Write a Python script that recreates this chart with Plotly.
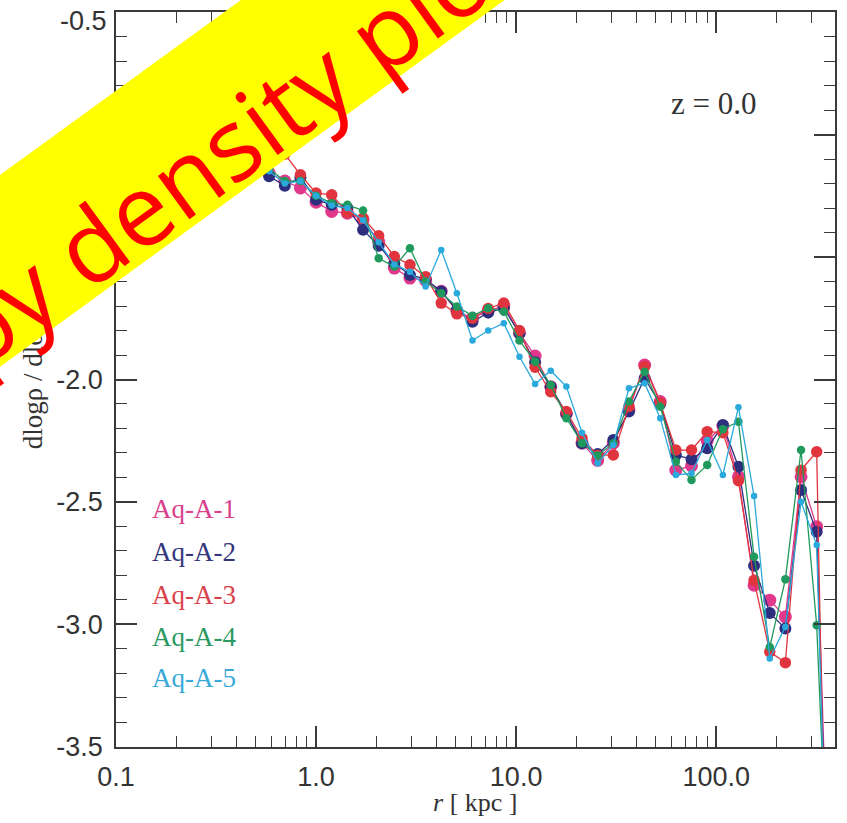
import plotly.graph_objects as go

# radius bins [kpc]
r_kpc = [0.198, 0.237, 0.2836, 0.3395, 0.4064, 0.4866, 0.5825, 0.6975, 0.835,
         1.0, 1.197, 1.434, 1.717, 2.055, 2.460, 2.946, 3.527, 4.222, 5.056,
         6.053, 7.247, 8.677, 10.39, 12.44, 14.89, 17.83, 21.35, 25.56, 30.60,
         36.64, 43.87, 52.52, 62.88, 75.29, 90.16, 108.0, 129.2, 154.7, 185.3,
         221.8, 265.6, 318.0, 380.8]

aq_a_1 = [-0.88, -0.92, -0.97, -1.02, -1.07, -1.11, -1.157, -1.19, -1.218,
          -1.276, -1.314, -1.321, -1.348, -1.437, -1.545, -1.586, -1.595, -1.64, -1.72,
          -1.75, -1.72, -1.70, -1.81, -1.904, -2.03, -2.14, -2.26, -2.33, -2.26,
          -2.124, -1.941, -2.09, -2.37, -2.353, -2.25, -2.19, -2.397, -2.84, -2.901,
          -2.969, -2.397, -2.601, -4.6]
aq_a_2 = [-0.89, -0.93, -0.98, -1.03, -1.08, -1.13, -1.17, -1.209, -1.175,
          -1.266, -1.287, -1.30, -1.389, -1.454, -1.525, -1.573, -1.59, -1.641, -1.716,
          -1.764, -1.727, -1.709, -1.811, -1.93, -2.03, -2.14, -2.26, -2.304, -2.247,
          -2.131, -1.995, -2.10, -2.308, -2.326, -2.281, -2.186, -2.356, -2.76, -2.953,
          -3.017, -2.451, -2.622, -4.8]
aq_a_3 = [-0.86, -0.90, -0.94, -0.98, -1.02, -1.05, -1.07, -1.08, -1.164,
          -1.239, -1.246, -1.318, -1.341, -1.413, -1.498, -1.532, -1.58, -1.688, -1.732,
          -1.75, -1.71, -1.688, -1.80, -1.95, -2.05, -2.131, -2.24, -2.31, -2.308,
          -2.11, -1.947, -2.096, -2.288, -2.288, -2.213, -2.217, -2.413, -2.82, -3.112,
          -3.156, -2.37, -2.295, -5.5]
aq_a_4 = [-0.88, -0.92, -0.97, -1.02, -1.06, -1.10, -1.14, -1.19, -1.19,
          -1.25, -1.28, -1.287, -1.31, -1.505, -1.539, -1.464, -1.60, -1.648, -1.702,
          -1.740, -1.709, -1.723, -1.841, -1.927, -2.022, -2.158, -2.26, -2.31, -2.26,
          -2.09, -1.968, -2.111, -2.336, -2.41, -2.349, -2.203, -2.172, -2.724, -3.092,
          -2.816, -2.288, -3.003, -4.5]
aq_a_5 = [-0.88, -0.92, -0.97, -1.02, -1.07, -1.11, -1.15, -1.20, -1.19,
          -1.25, -1.29, -1.30, -1.35, -1.44, -1.53, -1.56, -1.62, -1.471, -1.648,
          -1.841, -1.80, -1.77, -1.907, -2.018, -1.964, -2.029, -2.217, -2.342, -2.267,
          -2.036, -2.015, -2.158, -2.39, -2.383, -2.247, -2.39, -2.113, -2.476, -3.139,
          -3.01, -2.499, -2.676, -4.9]

names = ["Aq-A-1", "Aq-A-2", "Aq-A-3", "Aq-A-4", "Aq-A-5"]
series = [aq_a_1, aq_a_2, aq_a_3, aq_a_4, aq_a_5]
colors = ["#e0398c", "#2d2f7e", "#e0353f", "#1f9a5c", "#2aa9dc"]
text_colors = ["#d9418d", "#35377c", "#d9434c", "#2b9a60", "#3aaad8"]
marker_sizes = [13, 12, 11.5, 8.5, 6.5]

x_tickvals = [0.1, 1, 10, 100]
x_ticktext = ["0.1", "1.0", "10.0", "100.0"]
x_minor = [0.2, 0.3, 0.4, 0.5, 0.6, 0.7, 0.8, 0.9, 2, 3, 4, 5, 6, 7, 8, 9,
           20, 30, 40, 50, 60, 70, 80, 90, 200, 300]
y_tickvals = [-0.5, -1.0, -1.5, -2.0, -2.5, -3.0, -3.5]
y_ticktext = ["", "-1.0", "-1.5", "-2.0", "-2.5", "-3.0", "-3.5"]
y_top_label = "-0.5"

fig = go.Figure()
for name, ys, c, ms in zip(names, series, colors, marker_sizes):
    fig.add_trace(go.Scatter(x=r_kpc, y=ys, mode="lines+markers", name=name,
                             line=dict(color=c, width=1.3),
                             marker=dict(color=c, size=ms)))

W, H = 847, 823
L, R, T, B = 116, 10, 12, 76
pw, ph = W - L - R, H - T - B

def px(xp):
    return (xp - L) / pw

def py(yp):
    return (H - B - yp) / ph

axis_col = "#3a3a3a"
tick_font = dict(family="Liberation Sans, Arial, sans-serif", size=27, color="#333333")
serif = "Liberation Serif, Times New Roman, serif"

fig.update_xaxes(type="log", range=[-1.0003, 2.594], tickmode="array",
                 tickvals=x_tickvals, ticktext=x_ticktext,
                 ticks="inside", ticklen=21, tickwidth=1.5, tickcolor=axis_col,
                 minor=dict(tickmode="array", tickvals=x_minor, ticks="inside",
                            ticklen=11, tickwidth=1.3, tickcolor=axis_col),
                 showline=True, linecolor=axis_col, linewidth=1.5, mirror="allticks",
                 showgrid=False, zeroline=False, tickfont=tick_font,
                 ticklabelstandoff=5)
fig.update_yaxes(range=[-3.5004, -0.4996], tickmode="array",
                 tickvals=y_tickvals, ticktext=y_ticktext,
                 ticks="inside", ticklen=21, tickwidth=1.5, tickcolor=axis_col,
                 minor=dict(dtick=0.1, tick0=-0.5, ticks="inside",
                            ticklen=11, tickwidth=1.3, tickcolor=axis_col),
                 showline=True, linecolor=axis_col, linewidth=1.5, mirror="allticks",
                 showgrid=False, zeroline=False, tickfont=tick_font,
                 ticklabelstandoff=6)

annotations = []
annotations.append(dict(text=y_top_label, x=px(109), y=py(21), xref="paper", yref="paper",
                        showarrow=False, xanchor="right", yanchor="middle",
                        font=tick_font))
# axis titles
annotations.append(dict(text="dlogρ / dlogr", x=px(33), y=py(380), xref="paper", yref="paper",
                        textangle=-90, showarrow=False, xanchor="center", yanchor="middle",
                        font=dict(family=serif, size=27, color="#333333")))
annotations.append(dict(text="<i>r</i> [ kpc ]", x=px(476), y=py(802), xref="paper", yref="paper",
                        showarrow=False, xanchor="center", yanchor="middle",
                        font=dict(family=serif, size=26, color="#333333")))
annotations.append(dict(text="z = 0.0", x=px(716), y=py(104), xref="paper", yref="paper",
                        showarrow=False, xanchor="center", yanchor="middle",
                        font=dict(family=serif, size=31, color="#333333")))
legend_y = [509, 552, 595, 637, 678]
for name, tc, ly in zip(names, text_colors, legend_y):
    annotations.append(dict(text=name, x=px(150), y=py(ly), xref="paper", yref="paper",
                            showarrow=False, xanchor="left", yanchor="middle",
                            font=dict(family=serif, size=27, color=tc)))
# yellow banner
annotations.append(dict(text=" ", x=px(226.5), y=py(106.4), xref="paper", yref="paper",
                        showarrow=False, xanchor="center", yanchor="middle",
                        width=950, height=155, bgcolor="#ffff00", borderpad=0,
                        borderwidth=0, textangle=-36, font=dict(size=10)))
annotations.append(dict(text="Choppy density plot", x=px(130), y=py(213.6),
                        xref="paper", yref="paper", showarrow=False,
                        xanchor="center", yanchor="middle", textangle=-36,
                        font=dict(family="Open Sans, sans-serif", size=100, color="#ff0000")))

fig.update_layout(width=W, height=H, margin=dict(l=L, r=R, t=T, b=B),
                  plot_bgcolor="white", paper_bgcolor="white", showlegend=False,
                  annotations=annotations)

fig.write_html("out.html")
